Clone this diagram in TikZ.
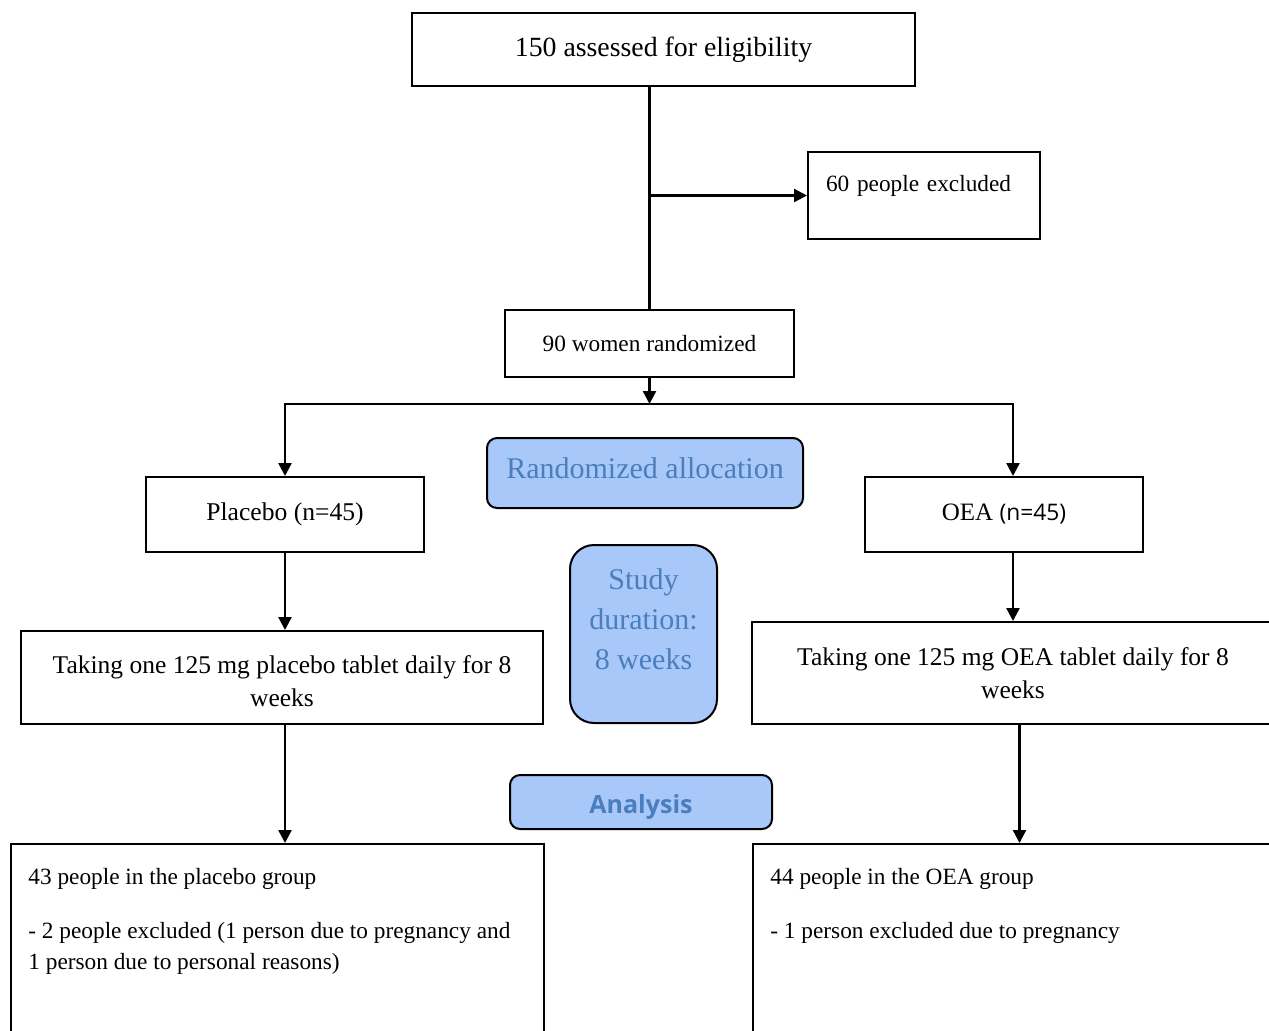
\documentclass[tikz,border=0pt]{standalone}
\usepackage{fontspec}
\setmainfont{Liberation Serif}
\newfontfamily\opensans{Open Sans}
\usetikzlibrary{arrows.meta,positioning}
\definecolor{boxblue}{HTML}{A8C8FA}
\definecolor{txtblue}{HTML}{4A7EBC}

\begin{document}
\begin{tikzpicture}[x=0.5pt,y=-0.5pt,
 box/.style={draw,line width=1pt,inner sep=0pt,align=center,font=\fontsize{11.65}{15.5}\selectfont},
 blue box/.style={draw,line width=1pt,fill=boxblue,rounded corners=5pt,inner sep=0pt,align=center,text=txtblue,font=\fontsize{15}{20}\selectfont},
 txt/.style={inner sep=0pt,align=left,anchor=north west,font=\fontsize{11.65}{15.5}\selectfont},
 arrow/.style={-{Triangle[length=6.5pt,width=6.5pt]},line width=1.2pt},
 link/.style={line width=1.2pt}]
 \useasboundingbox (0,0) rectangle (1269,1030);
 \clip (0,0) rectangle (1269,1030);
 % top of the chart
 \node[box,minimum width=251.5pt,minimum height=36.5pt,font=\fontsize{13.9}{17}\selectfont] (elig) at (663.5,49.5) {150 assessed for eligibility};
 \node[box,anchor=north west,align=left,inner xsep=9pt,text width=98pt,text height=19.5pt,text depth=24pt] (excl) at (807,151) {60 people excluded};
 \node[box,minimum width=144.5pt,minimum height=33.5pt] (rand) at (649.5,343.5) {90 women randomized};
 \coordinate[below=13pt of rand.south] (split);
 % arms
 \node[blue box,minimum width=158pt,minimum height=35pt,text depth=5pt] (alloc) at (645,473) {Randomized allocation};
 \node[box,minimum width=139pt,minimum height=37.5pt,font=\fontsize{12.8}{15.5}\selectfont] (plac) at (285,514.5) {Placebo (n=45)};
 \node[box,minimum width=139pt,minimum height=37.5pt,font=\fontsize{12.5}{15.5}\selectfont] (oea) at (1004,514.5) {OEA {\opensans\fontsize{11.4}{15}\selectfont(n=45)}};
 \node[box,minimum width=261pt,minimum height=46.5pt,font=\fontsize{12.75}{16.5}\selectfont] (takeP) at (282,677.5) {\rule{0pt}{13pt}Taking one 125 mg placebo tablet daily for 8\\weeks};
 \node[box,minimum width=261pt,minimum height=51pt,font=\fontsize{12.75}{16.5}\selectfont] (takeO) at (1013,673) {Taking one 125 mg OEA tablet daily for 8\\weeks};
 \node[blue box,rounded corners=12pt,minimum width=73.5pt,minimum height=89pt] (dur) at (643.5,634) {Study\\duration:\\8 weeks\\[-5pt]\mbox{}};
 % results
 \node[blue box,minimum width=131pt,minimum height=27pt,text height=14pt,text depth=3pt,font=\opensans\bfseries\fontsize{12.5}{15}\selectfont] (ana) at (641,802) {Analysis};
 \node[box,anchor=north west,minimum width=266.5pt,minimum height=110pt] (resP) at (10,843) {};
 \node[box,anchor=north west,minimum width=266.5pt,minimum height=110pt] (resO) at (752,843) {};
 \node[txt] (resP-txt) at (28,868) {43 people in the placebo group\\[11.5pt]- 2 people excluded (1 person due to pregnancy and\\1 person due to personal reasons)};
 \node[txt] (resO-txt) at (770,868) {44 people in the OEA group\\[11.5pt]- 1 person excluded due to pregnancy};
 % connectors
 \draw[link] (rand.north |- elig.south) -- (rand.north);
 \draw[arrow] (rand.north |- excl.west) -- (excl.west);
 \draw[arrow] (rand.south) -- (split);
 \draw[arrow] (split) -| (plac.north);
 \draw[arrow] (split) -| (oea.north -| takeO.north);
 \draw[arrow] (plac.south) -- (plac.south |- takeP.north);
 \draw[arrow] (takeO.north |- oea.south) -- (takeO.north);
 \draw[arrow] (plac.south |- takeP.south) -- (plac.south |- resP.north);
 \draw[arrow] (resO.north |- takeO.south) -- (resO.north);
\end{tikzpicture}
\end{document}
